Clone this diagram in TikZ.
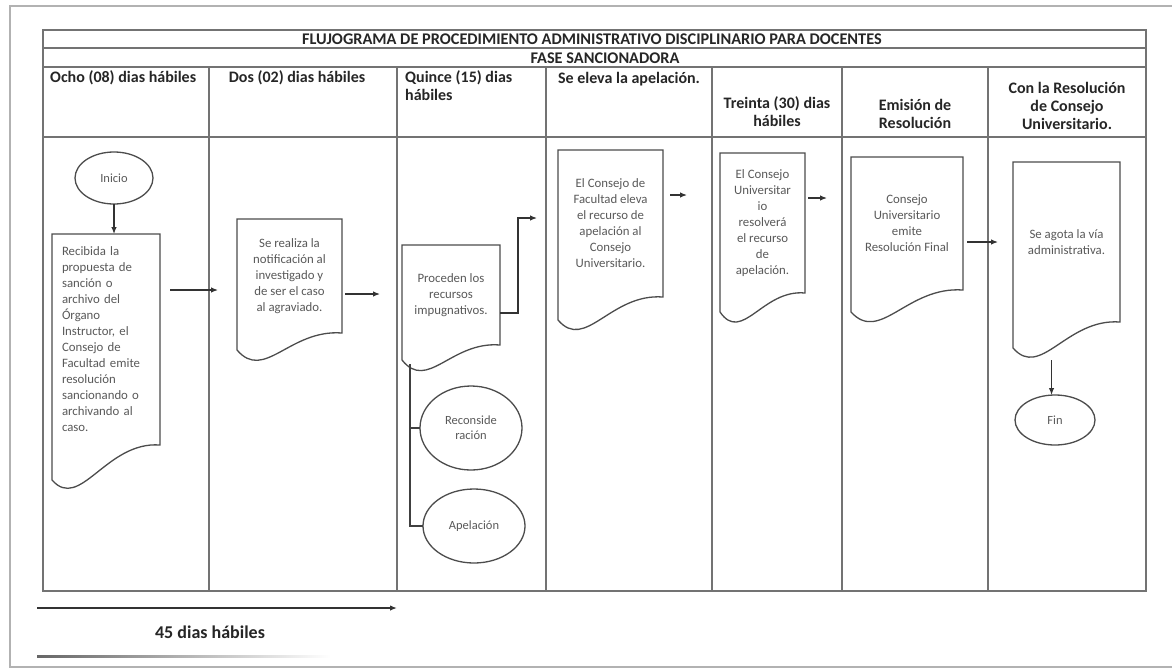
\documentclass[tikz,border=0pt]{standalone}
\usepackage{fontspec}
\setmainfont{Carlito}
\usetikzlibrary{shapes.geometric,arrows.meta,calc}

\tikzset{
  grid/.style={draw=black!55, line width=1.3pt},
  hdr/.style={font=\bfseries\fontsize{16}{18}\selectfont, text=black!85, inner sep=0pt, align=center},
  doctext/.style={font=\fontsize{12.8}{16}\selectfont, text=black!65, align=center, inner sep=0pt, outer sep=0pt, draw=none},
  docline/.style={draw=black!70, line width=1.3pt},
  term/.style={ellipse, draw=black!70, line width=1.3pt, font=\fontsize{12.5}{15}\selectfont, text=black!65, align=center, inner sep=0pt, outer sep=0pt},
  flow/.style={draw=black!80, line width=1.2pt, -{Latex[length=7pt,width=5.5pt]}},
  link/.style={draw=black!75, line width=1.3pt},
}

% document symbol drawn around a text node: #1 node name, #2 drop of the lower left corner
\newcommand\docoutline[2]{%
  \draw[docline] (#1.north west) -- (#1.north east) -- (#1.south east)
    .. controls ($(#1.south east)!0.5!(#1.south west)+(0,-4)$) and ($(#1.south west)!0.26!(#1.south east)+(0,#2+32)$)
    .. ($(#1.south west)+(0,#2)$) -- cycle;}

\begin{document}
\begin{tikzpicture}[x=1pt,y=-1pt]
\useasboundingbox (0,0) rectangle (1172,670);
\fill[white] (0,0) rectangle (1172,670);

% page edge
\draw[black!30, line width=2.5pt] (1172,6) -- (10,6) -- (10,667) -- (1172,667);

% swimlane table
\draw[grid] (43,30) rectangle (1146,591);
\draw[grid] (43,48) -- (1146,48);
\draw[grid] (43,67) -- (1146,67);
\draw[grid] (43,137) -- (1146,137);
\foreach \x in {209,397,546,712,842,988} \draw[grid] (\x,67) -- (\x,591);

\node[hdr, font=\bfseries\fontsize{16.3}{18}\selectfont] (title) at (592,39) {FLUJOGRAMA DE PROCEDIMIENTO ADMINISTRATIVO DISCIPLINARIO PARA DOCENTES};
\node[hdr, font=\bfseries\fontsize{16.3}{18}\selectfont] (fase) at (605,58) {FASE SANCIONADORA};

\node[hdr, anchor=west] (h1) at (50,78) {Ocho (08) dias hábiles};
\node[hdr] (h2) at (297,78) {Dos (02) dias hábiles};
\node[hdr, anchor=north west, align=left] (h3) at (405,70) {Quince (15) dias\\hábiles};
\node[hdr] (h4) at (629,79) {Se eleva la apelación.};
\node[hdr] (h5) at (777,112) {Treinta (30) dias\\hábiles};
\node[hdr] (h6) at (915,114) {Emisión de\\Resolución};
\node[hdr] (h7) at (1067,106) {Con la Resolución\\de Consejo\\Universitario.};

% flow nodes
\node[term, minimum width=78pt, minimum height=52pt] (inicio) at (114,178) {Inicio};

\node[doctext, align=left, text width=88pt, minimum width=108pt, minimum height=211pt] (d1) at (106,339.5)
  {Recibida la\\propuesta de\\sanción o\\archivo del\\Órgano\\Instructor, el\\Consejo de\\Facultad emite\\resolución\\sancionando o\\archivando al\\caso.};
\docoutline{d1}{35}

\node[doctext, minimum width=105pt, minimum height=114pt] (d2) at (289.5,276)
  {Se realiza la\\notificación al\\investigado y\\de ser el caso\\al agraviado.};
\docoutline{d2}{17}

\node[doctext, minimum width=98pt, minimum height=100pt] (d3) at (451,295)
  {Proceden los\\recursos\\impugnativos.};
\docoutline{d3}{15}

\node[term, minimum width=102pt, minimum height=84pt] (recon) at (471,428) {Reconside\\ración};
\node[term, minimum width=102pt, minimum height=74pt] (apel) at (474,526) {Apelación};

\node[doctext, minimum width=105pt, minimum height=147pt] (d4) at (610.5,223.5)
  {El Consejo de\\Facultad eleva\\el recurso de\\apelación al\\Consejo\\Universitario.};
\docoutline{d4}{23}

\node[doctext, minimum width=85pt, minimum height=140pt] (d5) at (762.5,223)
  {El Consejo\\Universitar\\io\\resolverá\\el recurso\\de\\apelación.};
\docoutline{d5}{19}

\node[doctext, minimum width=112pt, minimum height=133pt] (d6) at (907,223.5)
  {Consejo\\Universitario\\emite\\Resolución Final};
\docoutline{d6}{22}

\node[doctext, minimum width=107pt, minimum height=160pt] (d7) at (1066.5,242)
  {Se agota la vía\\administrativa.};
\docoutline{d7}{26}

\node[term, minimum width=80pt, minimum height=50pt] (fin) at (1055,420) {Fin};

% connectors
\draw[flow] (inicio.south) -- (inicio.south |- d1.north);
\draw[flow, shorten <=10pt, shorten >=19pt] (d1.east |- 0,290) -- (d2.west |- 0,290);
\draw[flow, shorten <=3pt, shorten >=22pt] (d2.east |- 0,294) -- (d3.west |- 0,294);
\draw[flow, shorten >=21pt] (d3.east |- 0,313) -- ++(18,0) |- (d4.west |- 0,218);
\coordinate (trunk) at ($(d3.south west)+(8,19)$);
\draw[link] (trunk) |- (apel.west);
\draw[link] (trunk |- recon.west) -- (recon.west);
\draw[flow, shorten <=7pt, shorten >=33pt] (d4.east |- 0,195) -- (d5.west |- 0,195);
\draw[flow, shorten <=3pt, shorten >=24pt] (d5.east |- 0,198) -- (d6.west |- 0,198);
\draw[flow, shorten <=4pt, shorten >=15pt] (d6.east |- 0,242) -- (d7.west |- 0,242);
\coordinate (d7foot) at ($(d7.south west)!0.36!(d7.south east)+(0,38)$);
\draw[flow] (d7foot) -- (d7foot |- fin.north);

% overall duration
\coordinate (span0) at (37,608);
\coordinate (span1) at (397,608);
\draw[flow, line width=1.5pt] (span0) -- (span1);
\node[hdr, font=\bfseries\fontsize{18}{20}\selectfont] (total) at (210,632) {45 dias hábiles};
\shade[left color=black!60, right color=white] (37,655.5) rectangle (330,657.5);
\end{tikzpicture}
\end{document}
